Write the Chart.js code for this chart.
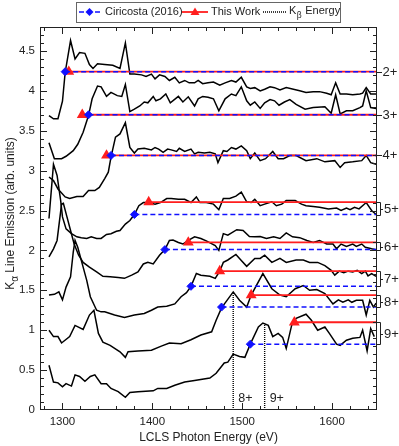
<!DOCTYPE html>
<html>
<head>
<meta charset="utf-8">
<script src="https://cdn.jsdelivr.net/npm/chart.js@4.4.1/dist/chart.umd.min.js"></script>
<style>
  body { margin: 0; background: #fff; }
  canvas { display: block; }
</style>
</head>
<body>
<canvas id="chart" width="399" height="446"></canvas>
<script>
// K-alpha emission curves, one per charge state: [photon energy (eV), signal]
const curve2 = [[1285,3.69],[1290,3.65],[1295,3.65],[1300,3.87],[1303,4.23],[1309,4.63],[1314,4.40],[1319,4.48],[1325,4.47],[1330,4.33],[1334,4.28],[1339,4.34],[1347,4.33],[1356,4.32],[1364,4.28],[1370,4.60],[1375,4.21],[1380,4.21],[1388,4.20],[1393,4.18],[1399,4.21],[1403,4.15],[1408,4.20],[1414,4.18],[1419,4.13],[1425,4.17],[1430,4.10],[1436,4.13],[1441,4.10],[1447,4.10],[1451,4.13],[1456,4.09],[1462,4.10],[1468,4.11],[1475,4.07],[1481,4.10],[1488,4.13],[1493,4.11],[1499,4.17],[1505,4.05],[1509,4.03],[1514,4.04],[1520,4.00],[1525,4.02],[1531,4.05],[1536,4.04],[1542,4.01],[1549,4.04],[1557,4.02],[1564,4.00],[1571,3.98],[1579,3.99],[1586,3.99],[1594,3.97],[1599,3.95],[1604,4.10],[1609,3.96],[1616,3.96],[1623,3.95],[1631,3.96],[1634,3.97],[1638,4.04],[1643,3.96],[1649,3.96]];
const curve3 = [[1285,3.35],[1291,3.15],[1299,3.15],[1304,3.18],[1312,3.25],[1317,3.33],[1323,3.48],[1329,3.69],[1333,3.90],[1339,4.06],[1343,4.05],[1349,3.93],[1354,3.98],[1361,3.94],[1366,3.93],[1370,4.08],[1375,3.74],[1380,3.77],[1386,3.81],[1391,3.86],[1395,3.85],[1401,3.93],[1404,3.875],[1409,3.90],[1415,3.96],[1420,3.85],[1429,3.93],[1434,3.86],[1440,3.925],[1447,3.81],[1451,3.90],[1456,3.93],[1462,3.92],[1468,3.90],[1474,3.75],[1481,3.90],[1488,3.96],[1493,3.94],[1499,4.05],[1505,3.875],[1509,3.82],[1514,3.86],[1520,3.78],[1525,3.85],[1531,3.89],[1536,3.875],[1541,3.82],[1547,3.86],[1553,3.89],[1560,3.83],[1570,3.77],[1579,3.79],[1592,3.80],[1599,3.72],[1604,3.95],[1609,3.71],[1616,3.75],[1623,3.75],[1631,3.79],[1634,3.81],[1638,4.00],[1643,3.79],[1649,3.78]];
const curve4 = [[1285,2.92],[1290,2.875],[1295,2.77],[1303,2.67],[1308,2.65],[1316,2.675],[1323,2.675],[1329,2.75],[1336,2.75],[1341,2.79],[1347,2.90],[1351,2.98],[1354,3.17],[1359,3.42],[1364,3.46],[1370,3.60],[1375,3.29],[1380,3.22],[1384,3.27],[1391,3.28],[1399,3.26],[1403,3.29],[1407,3.27],[1412,3.23],[1417,3.27],[1421,3.26],[1427,3.24],[1430,3.28],[1436,3.24],[1443,3.27],[1447,3.21],[1451,3.23],[1458,3.22],[1464,3.23],[1470,3.21],[1473,3.10],[1479,3.25],[1483,3.24],[1488,3.29],[1493,3.27],[1499,3.31],[1505,3.25],[1509,3.15],[1514,3.22],[1520,3.125],[1526,3.15],[1534,3.24],[1540,3.15],[1546,3.15],[1553,3.19],[1560,3.19],[1571,3.125],[1583,3.15],[1592,3.11],[1603,3.125],[1609,3.04],[1614,3.10],[1623,3.11],[1633,3.125],[1638,3.19],[1643,3.10],[1649,3.08]];
const curve5 = [[1285,2.40],[1290,3.08],[1294,2.94],[1298,2.625],[1300,2.42],[1304,2.27],[1310,2.21],[1316,2.17],[1321,2.16],[1327,2.15],[1332,2.17],[1338,2.15],[1343,2.15],[1349,2.20],[1354,2.21],[1360,2.24],[1364,2.25],[1370,2.33],[1375,2.375],[1380,2.45],[1385,2.56],[1390,2.60],[1396,2.60],[1403,2.58],[1409,2.60],[1416,2.65],[1421,2.65],[1429,2.64],[1436,2.64],[1443,2.60],[1449,2.67],[1453,2.60],[1460,2.60],[1468,2.58],[1474,2.51],[1479,2.65],[1486,2.65],[1493,2.68],[1499,2.73],[1505,2.61],[1510,2.60],[1514,2.64],[1520,2.56],[1525,2.58],[1533,2.61],[1538,2.56],[1544,2.58],[1549,2.625],[1559,2.625],[1566,2.58],[1571,2.56],[1579,2.55],[1586,2.54],[1596,2.52],[1605,2.53],[1610,2.50],[1616,2.53],[1620,2.51],[1625,2.54],[1630,2.52],[1638,2.60],[1644,2.50],[1649,2.45]];
const curve6 = [[1285,1.92],[1290,2.02],[1294,2.125],[1299,2.58],[1301,2.59],[1305,2.42],[1309,2.25],[1313,2.08],[1318,1.94],[1323,1.85],[1330,1.79],[1338,1.73],[1345,1.675],[1353,1.67],[1362,1.66],[1369,1.65],[1377,1.69],[1384,1.73],[1390,1.83],[1395,1.85],[1401,1.83],[1408,1.94],[1414,2.01],[1419,2.125],[1423,2.13],[1429,2.10],[1434,2.08],[1440,2.125],[1447,2.17],[1454,2.15],[1460,2.12],[1470,2.06],[1474,2.00],[1479,2.21],[1484,2.19],[1494,2.26],[1501,2.25],[1508,2.175],[1514,2.17],[1520,2.175],[1527,2.15],[1535,2.17],[1542,2.15],[1549,2.22],[1556,2.17],[1564,2.16],[1572,2.125],[1579,2.10],[1586,2.125],[1594,2.08],[1601,2.08],[1605,2.02],[1610,2.08],[1616,2.05],[1623,2.08],[1627,2.05],[1633,2.08],[1637,2.04],[1644,2.02],[1649,2.01]];
const curve7 = [[1285,1.44],[1291,1.45],[1296,1.48],[1300,1.38],[1304,1.54],[1309,1.67],[1312,1.98],[1314,2.125],[1317,2.04],[1323,1.79],[1327,1.625],[1331,1.42],[1338,1.25],[1343,1.23],[1347,1.23],[1358,1.19],[1369,1.16],[1380,1.19],[1391,1.21],[1399,1.25],[1406,1.29],[1416,1.30],[1425,1.33],[1432,1.42],[1438,1.47],[1443,1.55],[1449,1.71],[1454,1.69],[1464,1.675],[1470,1.65],[1475,1.74],[1479,1.85],[1484,1.88],[1493,1.95],[1499,1.875],[1505,1.80],[1514,1.90],[1520,1.90],[1525,1.94],[1533,1.85],[1542,1.90],[1549,1.85],[1560,1.88],[1568,1.88],[1575,1.85],[1584,1.85],[1592,1.81],[1599,1.75],[1603,1.69],[1608,1.74],[1613,1.72],[1618,1.74],[1623,1.73],[1628,1.75],[1633,1.71],[1637,1.74],[1640,1.68],[1644,1.71],[1649,1.675]];
const curve8 = [[1285,1.00],[1290,0.92],[1295,0.92],[1299,0.84],[1308,0.92],[1314,1.06],[1323,1.01],[1330,1.19],[1335,1.25],[1340,0.96],[1345,0.85],[1353,0.81],[1364,0.73],[1370,0.66],[1373,0.73],[1384,0.74],[1399,0.75],[1410,0.80],[1419,0.84],[1432,0.83],[1443,0.88],[1454,0.94],[1466,0.98],[1471,1.125],[1477,1.28],[1490,1.48],[1497,1.375],[1505,1.29],[1510,1.44],[1523,1.71],[1533,1.52],[1542,1.44],[1549,1.42],[1559,1.52],[1568,1.56],[1575,1.50],[1583,1.51],[1592,1.46],[1601,1.33],[1607,1.38],[1612,1.35],[1618,1.38],[1622,1.35],[1627,1.375],[1634,1.375],[1638,1.19],[1642,1.375],[1646,1.29],[1649,1.34]];
const curve9 = [[1285,0.56],[1290,0.35],[1295,0.34],[1300,0.29],[1304,0.33],[1310,0.30],[1314,0.44],[1319,0.42],[1325,0.36],[1331,0.42],[1336,0.44],[1343,0.33],[1349,0.33],[1354,0.27],[1362,0.23],[1370,0.16],[1375,0.22],[1384,0.23],[1401,0.24],[1406,0.27],[1416,0.27],[1425,0.31],[1436,0.35],[1447,0.37],[1464,0.40],[1471,0.46],[1480,0.59],[1484,0.60],[1490,0.70],[1497,0.67],[1503,0.66],[1509,0.825],[1518,1.04],[1523,1.09],[1529,1.06],[1534,0.92],[1540,0.96],[1545,0.91],[1549,0.77],[1555,1.06],[1560,1.15],[1571,1.20],[1577,1.125],[1584,1.00],[1592,1.04],[1597,0.96],[1605,0.825],[1609,0.81],[1616,0.875],[1623,0.90],[1631,0.91],[1634,1.00],[1639,0.74],[1643,1.02],[1647,0.92]];

// threshold markers per charge state
const stateLabels = ["2+", "3+", "4+", "5+", "6+", "7+", "8+", "9+"];
const ciricostaStart = [1303, 1329, 1354, 1380, 1414, 1443, 1477, 1509];
const ciricostaLevel = [4.24, 3.70, 3.19, 2.45, 2.01, 1.55, 1.29, 0.825];
const thisWorkStart = [1307, 1322, 1349, 1396, 1440, 1475, 1510, 1558];
const thisWorkLevel = [4.24, 3.70, 3.19, 2.605, 2.10, 1.74, 1.44, 1.10];

// K-beta energies
const kbetaEnergy = [1490, 1525];
const kbetaTop = [1.48, 1.08];
const kbetaLabels = ["8+", "9+"];

const xTickLabels = [1300, 1400, 1500, 1600];
const yTickLabels = [0, 0.5, 1, 1.5, 2, 2.5, 3, 3.5, 4, 4.5];

const X_MIN = 1275, X_MAX = 1650;
const FONT = "'Liberation Sans', Arial, Helvetica, sans-serif";
const TEXT = "#222";

function segments(starts, levels) {
  const pts = [];
  starts.forEach(function (s, i) {
    pts.push({ x: s, y: levels[i], mark: true });
    pts.push({ x: X_MAX, y: levels[i], mark: false });
    pts.push({ x: X_MAX, y: null });
  });
  return pts;
}

const curves = [curve2, curve3, curve4, curve5, curve6, curve7, curve8, curve9];
const datasets = curves.map(function (c) {
  return {
    data: c.map(function (p) { return { x: p[0], y: p[1] }; }),
    borderColor: "#000",
    borderWidth: 1.5,
    pointRadius: 0,
    order: 3
  };
});

const kbetaPts = [];
kbetaEnergy.forEach(function (e, i) {
  kbetaPts.push({ x: e, y: 0 }, { x: e, y: kbetaTop[i] }, { x: e, y: null });
});
datasets.push({
  data: kbetaPts,
  borderColor: "#000",
  borderWidth: 1.4,
  borderDash: [1, 1],
  pointRadius: 0,
  order: 2
});
datasets.push({
  data: segments(thisWorkStart, thisWorkLevel),
  borderColor: "rgb(255,30,30)",
  backgroundColor: "rgb(255,30,30)",
  borderWidth: 1.8,
  pointStyle: "triangle",
  pointRadius: function (ctx) { return ctx.raw && ctx.raw.mark ? 4.5 : 0; },
  order: 1
});
datasets.push({
  data: segments(ciricostaStart, ciricostaLevel),
  borderColor: "#1010ff",
  backgroundColor: "#1010ff",
  borderWidth: 1.5,
  borderDash: [5, 3],
  pointStyle: "rectRot",
  pointRadius: function (ctx) { return ctx.raw && ctx.raw.mark ? 4 : 0; },
  pointBorderWidth: 1,
  order: 0
});

// box, inward ticks on all four sides
const framePlugin = {
  id: "frame",
  afterDraw: function (chart) {
    const ctx = chart.ctx, a = chart.chartArea;
    const xs = chart.scales.x, ys = chart.scales.y;
    ctx.save();
    ctx.strokeStyle = "#222";
    ctx.lineWidth = 1;
    ctx.strokeRect(a.left + 0.5, a.top + 0.5, a.right - a.left - 1, a.bottom - a.top - 1);
    ctx.beginPath();
    for (let v = 1280; v < X_MAX; v += 20) {
      const px = Math.round(xs.getPixelForValue(v)) + 0.5;
      const len = v % 100 === 0 ? 7 : 4;
      ctx.moveTo(px, a.bottom); ctx.lineTo(px, a.bottom - len);
      ctx.moveTo(px, a.top); ctx.lineTo(px, a.top + len);
    }
    for (let i = 1; i < 48; i++) {
      const py = Math.round(ys.getPixelForValue(i / 10)) + 0.5;
      const len = i % 5 === 0 ? 7 : 4;
      ctx.moveTo(a.left, py); ctx.lineTo(a.left + len, py);
      ctx.moveTo(a.right, py); ctx.lineTo(a.right - len, py);
    }
    ctx.stroke();
    ctx.restore();
  }
};

// charge state labels on the right, K-beta labels, legend and y title
const notesPlugin = {
  id: "notes",
  afterDraw: function (chart) {
    const ctx = chart.ctx, a = chart.chartArea;
    const xs = chart.scales.x, ys = chart.scales.y;
    ctx.save();
    ctx.fillStyle = TEXT;
    ctx.strokeStyle = "#222";
    ctx.lineWidth = 1;
    ctx.font = "13px " + FONT;
    ctx.textBaseline = "middle";
    ctx.textAlign = "left";
    const xr = a.right;
    stateLabels.forEach(function (lab, i) {
      const yR = Math.round(ys.getPixelForValue(thisWorkLevel[i])) + 0.5;
      const yB = Math.round(ys.getPixelForValue(ciricostaLevel[i])) + 0.5;
      ctx.beginPath();
      if (Math.abs(yR - yB) < 2) {
        ctx.moveTo(xr, yB); ctx.lineTo(xr + 5, yB);
        ctx.stroke();
        ctx.fillText(lab, xr + 5.5, yB);
      } else {
        const ym = Math.round((yR + yB) / 2) + 0.5;
        ctx.moveTo(xr, yR); ctx.lineTo(xr + 3.5, yR); ctx.lineTo(xr + 3.5, yB); ctx.lineTo(xr, yB);
        ctx.moveTo(xr + 3.5, ym); ctx.lineTo(xr + 6, ym);
        ctx.stroke();
        ctx.fillText(lab, xr + 7, ym);
      }
    });
    ctx.font = "12.5px " + FONT;
    kbetaEnergy.forEach(function (e, i) {
      ctx.fillText(kbetaLabels[i], xs.getPixelForValue(e) + 5, ys.getPixelForValue(0.14));
    });

    // y axis title with subscript alpha
    ctx.font = "12px " + FONT;
    const sub = "10px " + FONT;
    const rest = " Line Emission (arb. units)";
    const wK = ctx.measureText("K").width;
    const wRest = ctx.measureText(rest).width;
    ctx.font = sub;
    const wA = ctx.measureText("\u03b1").width;
    const total = wK + wA + wRest;
    ctx.translate(11, (a.top + a.bottom) / 2 - 5);
    ctx.rotate(-Math.PI / 2);
    const x0 = -total / 2;
    ctx.font = "12px " + FONT;
    ctx.fillText("K", x0, 0);
    ctx.font = sub;
    ctx.fillText("\u03b1", x0 + wK, 4);
    ctx.font = "12px " + FONT;
    ctx.fillText(rest, x0 + wK + wA, 0);
    ctx.setTransform(1, 0, 0, 1, 0, 0);

    // legend
    const ly = 12;
    ctx.fillStyle = "#fff";
    ctx.fillRect(76.5, 2.5, 264, 20);
    ctx.strokeStyle = "#666";
    ctx.strokeRect(76.5, 2.5, 264, 20);
    ctx.font = "11px " + FONT;
    ctx.fillStyle = TEXT;

    ctx.strokeStyle = "#1010ff";
    ctx.lineWidth = 1.5;
    ctx.setLineDash([5, 3]);
    ctx.beginPath(); ctx.moveTo(79, ly); ctx.lineTo(102, ly); ctx.stroke();
    ctx.setLineDash([]);
    ctx.fillStyle = "#1010ff";
    ctx.beginPath();
    ctx.moveTo(89.5, ly - 4); ctx.lineTo(93.5, ly); ctx.lineTo(89.5, ly + 4); ctx.lineTo(85.5, ly);
    ctx.closePath(); ctx.fill();
    ctx.fillStyle = TEXT;
    ctx.fillText("Ciricosta (2016)", 105, ly);

    ctx.strokeStyle = "rgb(255,30,30)";
    ctx.lineWidth = 1.8;
    ctx.beginPath(); ctx.moveTo(182, ly); ctx.lineTo(208, ly); ctx.stroke();
    ctx.fillStyle = "rgb(255,30,30)";
    ctx.beginPath();
    ctx.moveTo(195, ly - 4.5); ctx.lineTo(199.5, ly + 3); ctx.lineTo(190.5, ly + 3);
    ctx.closePath(); ctx.fill();
    ctx.fillStyle = TEXT;
    ctx.fillText("This Work", 211, ly);

    ctx.strokeStyle = "#000";
    ctx.lineWidth = 1.4;
    ctx.setLineDash([1, 1]);
    ctx.beginPath(); ctx.moveTo(263, ly); ctx.lineTo(287, ly); ctx.stroke();
    ctx.setLineDash([]);
    ctx.fillText("K", 289, ly - 1);
    const wk = ctx.measureText("K").width;
    ctx.font = "8.5px " + FONT;
    ctx.fillText("\u03b2", 289 + wk + 0.5, ly + 4);
    const wb = ctx.measureText("\u03b2").width;
    ctx.font = "11px " + FONT;
    ctx.fillText(" Energy", 289 + wk + wb + 1, ly - 1);
    ctx.restore();
  }
};

Chart.defaults.font.family = FONT;
Chart.defaults.color = TEXT;

new Chart(document.getElementById("chart"), {
  type: "line",
  data: { datasets: datasets },
  options: {
    responsive: false,
    animation: false,
    events: [],
    layout: { padding: { top: 27, right: 22, left: 0, bottom: 0 } },
    plugins: { legend: { display: false }, tooltip: { enabled: false } },
    scales: {
      x: {
        type: "linear",
        min: X_MIN,
        max: X_MAX,
        grid: { display: false, drawTicks: false },
        border: { display: false },
        afterBuildTicks: function (scale) {
          scale.ticks = xTickLabels.map(function (v) { return { value: v }; });
        },
        afterFit: function (scale) { scale.height = 36; },
        ticks: {
          autoSkip: false,
          maxRotation: 0,
          padding: 5,
          font: { size: 11.5 },
          callback: function (v) { return String(v); }
        },
        title: {
          display: true,
          text: "LCLS Photon Energy (eV)",
          font: { size: 12 },
          padding: { top: 0, bottom: 1 }
        }
      },
      y: {
        min: 0,
        max: 4.8,
        grid: { display: false, drawTicks: false },
        border: { display: false },
        afterBuildTicks: function (scale) {
          scale.ticks = yTickLabels.map(function (v) { return { value: v }; });
        },
        afterFit: function (scale) { scale.width = 40; },
        ticks: {
          padding: 5,
          font: { size: 11.5 },
          callback: function (v) { return String(v); }
        }
      }
    }
  },
  plugins: [framePlugin, notesPlugin]
});
</script>
</body>
</html>
